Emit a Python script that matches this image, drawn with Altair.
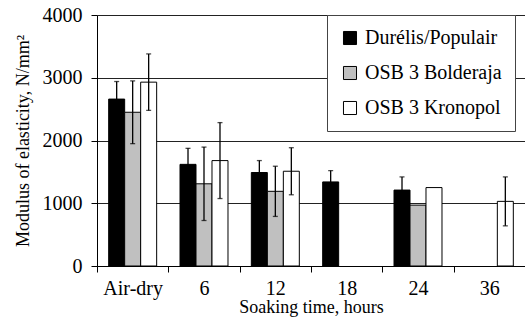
import altair as alt
import pandas as pd

categories = ["Air-dry", "6", "12", "18", "24", "36"]
series = ["Durélis/Populair", "OSB 3 Bolderaja", "OSB 3 Kronopol"]
colors = ["#000000", "#c0c0c0", "#ffffff"]

durelis = [2660, 1620, 1490, 1340, 1210, None]
bolderaja = [2450, 1310, 1190, None, 970, None]
kronopol = [2930, 1680, 1510, None, 1250, 1030]

durelis_err = [280, 255, 190, 180, 210, None]
bolderaja_err = [500, 585, 400, None, None, None]
kronopol_err = [450, 605, 375, None, None, 390]

vals = [durelis, bolderaja, kronopol]
errs = [durelis_err, bolderaja_err, kronopol_err]

rows = []
for s, v, e in zip(series, vals, errs):
    for c, val, err in zip(categories, v, e):
        if val is not None:
            r = {"time": c, "series": s, "value": val}
            if err is not None:
                r["lo"] = val - err
                r["hi"] = val + err
            rows.append(r)
df = pd.DataFrame(rows)

FONT = "Liberation Serif"

x_enc = alt.X("time:N", sort=categories,
              scale=alt.Scale(domain=categories, paddingInner=0, paddingOuter=0),
              axis=alt.Axis(title="Soaking time, hours", tickBand="extent", labelAngle=0,
                            labelFont=FONT, titleFont=FONT,
                            labelFontSize=20, titleFontSize=18, labelPadding=6,
                            titlePadding=0, grid=False))
xo_enc = alt.XOffset("series:N", sort=series,
                     scale=alt.Scale(domain=series, paddingInner=0, paddingOuter=0.73))

base = alt.Chart(df)

bars = base.mark_bar(stroke="black", strokeWidth=1).encode(
    x=x_enc,
    xOffset=xo_enc,
    y=alt.Y("value:Q", scale=alt.Scale(domain=[0, 4000]),
            axis=alt.Axis(title="Modulus of elasticity, N/mm²", values=[0, 1000, 2000, 3000, 4000],
                          format="d", labelFont=FONT, titleFont=FONT,
                          grid=True, gridColor="#222222", gridWidth=1, labelFontSize=20,
                          titleFontSize=18, labelPadding=9, titlePadding=10)),
    fill=alt.Fill("series:N", sort=series,
                  scale=alt.Scale(domain=series, range=colors),
                  legend=alt.Legend(title=None, orient="none", legendX=230, legendY=0,
                                    strokeColor="#444444", fillColor="white", padding=13,
                                    labelFontSize=20, labelFont=FONT, labelColor="black",
                                    symbolType="square", symbolSize=170,
                                    symbolStrokeColor="black", symbolStrokeWidth=1,
                                    rowPadding=15, labelOffset=5, labelLimit=0)),
)

err_base = base.transform_filter("isValid(datum.lo)")
rules = err_base.mark_rule(color="black", strokeWidth=1.3).encode(
    x=alt.X("time:N", sort=categories), xOffset=xo_enc,
    y="lo:Q", y2="hi:Q")
cap_lo = err_base.mark_tick(color="black", size=5, thickness=1.3).encode(
    x=alt.X("time:N", sort=categories), xOffset=xo_enc, y="lo:Q")
cap_hi = err_base.mark_tick(color="black", size=5, thickness=1.3).encode(
    x=alt.X("time:N", sort=categories), xOffset=xo_enc, y="hi:Q")

chart = alt.layer(bars, rules, cap_lo, cap_hi).properties(
    width=428, height=251,
    autosize=alt.AutoSizeParams(type="none"),
    padding={"left": 97, "top": 15, "right": 0, "bottom": 56},
).configure(
    font=FONT,
    style={"guide-label": {"font": FONT}, "guide-title": {"font": FONT}},
).configure_view(stroke=None).configure_axis(
    labelFont=FONT, titleFont=FONT,
    labelColor="black", titleColor="black",
    titleFontWeight="normal", domainColor="black", tickColor="black", tickSize=6,
).configure_legend(labelFont=FONT)

chart.save("out.html", embed_options={"renderer": "svg", "actions": False})
